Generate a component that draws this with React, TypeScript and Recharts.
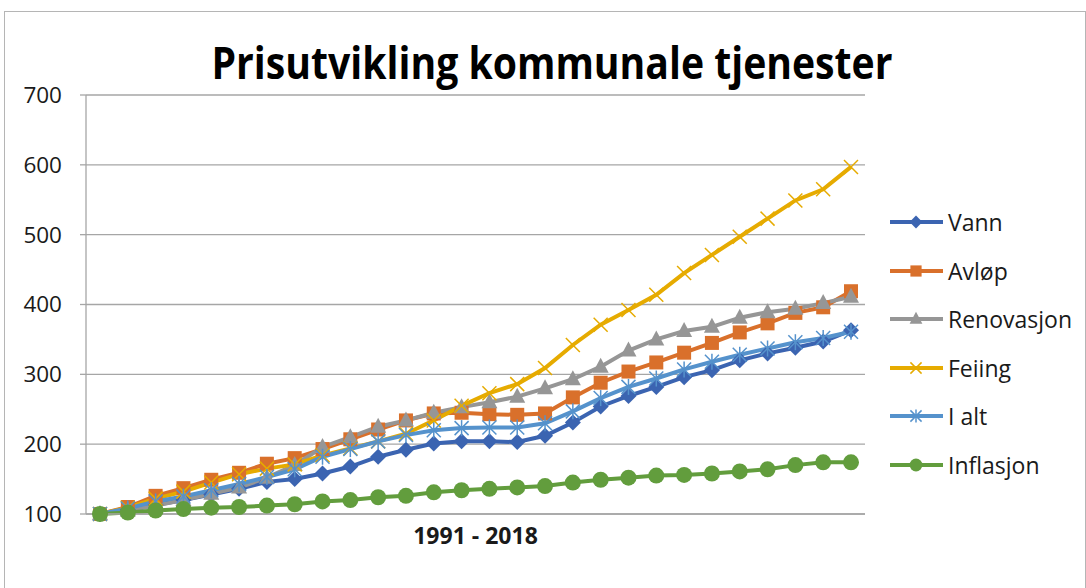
import { LineChart, Line, XAxis, YAxis, CartesianGrid } from "recharts";

const years = [
  "1991", "1992", "1993", "1994", "1995", "1996", "1997", "1998", "1999", "2000",
  "2001", "2002", "2003", "2004", "2005", "2006", "2007", "2008", "2009", "2010",
  "2011", "2012", "2013", "2014", "2015", "2016", "2017", "2018",
];

const vann = [100, 106, 113, 120, 128, 136, 146, 150, 158, 168, 182, 192, 201, 204, 204, 203, 212, 231, 254, 269, 282, 296, 306, 320, 330, 338, 347, 363];
const avlop = [100, 110, 126, 137, 149, 159, 172, 180, 193, 207, 221, 234, 244, 245, 243, 242, 244, 267, 288, 304, 317, 331, 345, 360, 373, 388, 396, 419];
const renovasjon = [100, 105, 112, 120, 129, 138, 152, 170, 196, 210, 225, 234, 245, 253, 260, 268, 280, 293, 311, 334, 350, 362, 368, 381, 389, 394, 402, 411];
const feiing = [100, 109, 122, 132, 145, 157, 165, 171, 184, 194, 204, 215, 234, 255, 273, 286, 309, 342, 371, 392, 414, 445, 471, 497, 523, 549, 565, 597];
const iAlt = [100, 108, 118, 125, 134, 143, 153, 164, 182, 193, 204, 213, 220, 223, 224, 224, 230, 247, 266, 282, 294, 307, 318, 328, 337, 346, 352, 361];
const inflasjon = [100, 102, 105, 107, 109, 110, 112, 114, 118, 120, 124, 126, 131, 134, 136, 138, 140, 145, 149, 152, 155, 156, 158, 161, 164, 170, 174, 174];

const yTicks = [100, 200, 300, 400, 500, 600, 700];

type Shape = "diamond" | "square" | "triangle" | "x" | "star" | "circle";

const series: { key: string; name: string; color: string; shape: Shape; values: number[] }[] = [
  { key: "vann", name: "Vann", color: "#3b64b1", shape: "diamond", values: vann },
  { key: "avlop", name: "Avløp", color: "#d9702b", shape: "square", values: avlop },
  { key: "renovasjon", name: "Renovasjon", color: "#969696", shape: "triangle", values: renovasjon },
  { key: "feiing", name: "Feiing", color: "#e6ab00", shape: "x", values: feiing },
  { key: "ialt", name: "I alt", color: "#5592cc", shape: "star", values: iAlt },
  { key: "inflasjon", name: "Inflasjon", color: "#629d3d", shape: "circle", values: inflasjon },
];

const data = years.map((year, i) => {
  const row: Record<string, string | number> = { year };
  series.forEach((s) => {
    row[s.key] = s.values[i];
  });
  return row;
});

const FONT = "'Open Sans', sans-serif";

function Marker({ shape, cx, cy, color, s = 1 }: { shape: Shape; cx: number; cy: number; color: string; s?: number }) {
  switch (shape) {
    case "diamond":
      return (
        <polygon
          points={`${cx},${cy - 8 * s} ${cx + 8 * s},${cy} ${cx},${cy + 8 * s} ${cx - 8 * s},${cy}`}
          fill={color}
        />
      );
    case "square":
      return <rect x={cx - 7 * s} y={cy - 7 * s} width={14 * s} height={14 * s} fill={color} />;
    case "triangle":
      return (
        <polygon
          points={`${cx},${cy - 9 * s} ${cx + 8 * s},${cy + 6 * s} ${cx - 8 * s},${cy + 6 * s}`}
          fill={color}
        />
      );
    case "x":
      return (
        <g stroke={color} strokeWidth={1.5}>
          <line x1={cx - 7 * s} y1={cy - 7 * s} x2={cx + 7 * s} y2={cy + 7 * s} />
          <line x1={cx - 7 * s} y1={cy + 7 * s} x2={cx + 7 * s} y2={cy - 7 * s} />
        </g>
      );
    case "star":
      return (
        <g stroke={color} strokeWidth={1.5}>
          <line x1={cx - 7 * s} y1={cy - 7 * s} x2={cx + 7 * s} y2={cy + 7 * s} />
          <line x1={cx - 7 * s} y1={cy + 7 * s} x2={cx + 7 * s} y2={cy - 7 * s} />
          <line x1={cx} y1={cy - 8 * s} x2={cx} y2={cy + 8 * s} />
        </g>
      );
    default:
      return <circle cx={cx} cy={cy} r={8 * s} fill={color} />;
  }
}

function Legend() {
  return (
    <div style={{ position: "absolute", left: 890, top: 198 }}>
      {series.map((s, i) => (
        <div
          key={s.key}
          style={{ position: "absolute", top: i * 48.6, left: 0, display: "flex", alignItems: "center", height: 48, whiteSpace: "nowrap" }}
        >
          <svg width={54} height={20}>
            <line x1={0} y1={10} x2={53} y2={10} stroke={s.color} strokeWidth={4} />
            <Marker shape={s.shape} cx={26} cy={10} color={s.color} s={0.8} />
          </svg>
          <span style={{ fontFamily: FONT, fontSize: 23, color: "#1a1a1a", marginLeft: 4 }}>{s.name}</span>
        </div>
      ))}
    </div>
  );
}

export default function App() {
  return (
    <div style={{ position: "absolute", left: 0, top: 0, width: 1086, height: 588, background: "#fff", overflow: "hidden" }}>
      <div style={{ position: "absolute", left: 4, top: 11, width: 1080, height: 600, border: "1px solid #b5b5b5" }} />
      <svg style={{ position: "absolute", left: 0, top: 0 }} width={1086} height={100}>
        <text
          x={552}
          y={79}
          textAnchor="middle"
          fontFamily={FONT}
          fontWeight={700}
          fontSize={44}
          fill="#000"
          textLength={681}
          lengthAdjust="spacingAndGlyphs"
        >
          Prisutvikling kommunale tjenester
        </text>
      </svg>
      <div style={{ position: "absolute", left: 0, top: 0 }}>
        <LineChart width={1086} height={588} data={data} margin={{ top: 95, right: 221, bottom: 0, left: 0 }}>
          <CartesianGrid vertical={false} stroke="#a6a6a6" strokeWidth={1.3} />
          <XAxis
            dataKey="year"
            tick={false}
            tickLine={false}
            height={74}
            padding={{ left: 14, right: 14 }}
            axisLine={{ stroke: "#a6a6a6", strokeWidth: 1.3 }}
            label={{
              value: "1991 - 2018",
              position: "insideTop",
              offset: 14,
              fontFamily: FONT,
              fontWeight: 700,
              fontSize: 23,
              fill: "#1a1a1a",
            }}
          />
          <YAxis
            domain={[100, 700]}
            ticks={yTicks}
            width={86}
            tickSize={6}
            tickMargin={18}
            axisLine={{ stroke: "#a6a6a6", strokeWidth: 1.3 }}
            tickLine={{ stroke: "#a6a6a6", strokeWidth: 1.3 }}
            tick={{ fontFamily: FONT, fontSize: 22.5, fill: "#1a1a1a" }}
          />
          {series.map((s) => (
            <Line
              key={s.key}
              dataKey={s.key}
              name={s.name}
              type="linear"
              stroke={s.color}
              strokeWidth={4}
              isAnimationActive={false}
              dot={(p: any) => (
                <Marker key={`${s.key}-${p.index}`} shape={s.shape} cx={p.cx} cy={p.cy} color={s.color} />
              )}
              activeDot={false}
            />
          ))}
        </LineChart>
      </div>
      <Legend />
    </div>
  );
}
